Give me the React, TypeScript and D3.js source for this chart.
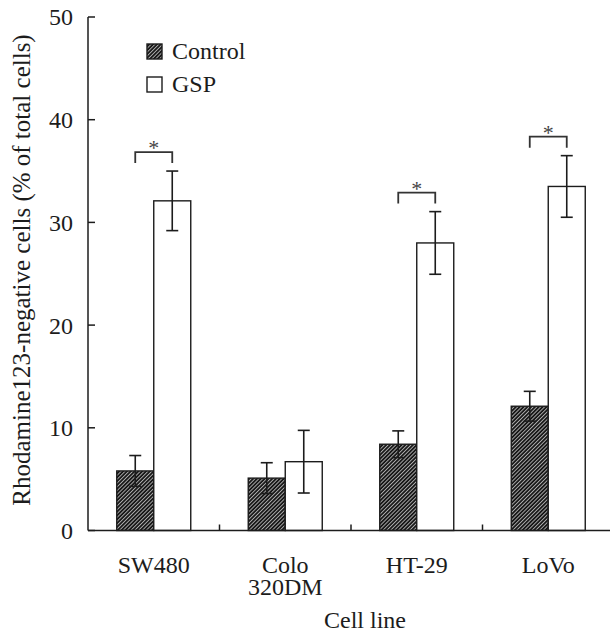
import React from 'react';
import * as d3 from 'd3';

// data
const cellLines = ['SW480', 'Colo 320DM', 'HT-29', 'LoVo'];
const controlMeans = [5.8, 5.1, 8.4, 12.1];
const controlErr = [1.5, 1.5, 1.3, 1.45];
const gspMeans = [32.1, 6.7, 28.0, 33.5];
const gspErr = [2.9, 3.05, 3.05, 3.0];
const significant = [true, false, true, true];
const yTicks = [0, 10, 20, 30, 40, 50];
const seriesNames = ['Control', 'GSP'];

const W = 610;
const H = 632;
const font = "'Liberation Serif', 'Times New Roman', 'DejaVu Serif', serif";
const ink = '#1c1c1c';

export default function App() {
  const x = d3.scaleBand<string>().domain(cellLines).range([88, 614]);
  const y = d3.scaleLinear().domain([0, 50]).range([530.5, 17]);
  const barW = 37;
  const cap = 6;

  const center = (c: string) => (x(c) as number) + x.bandwidth() / 2;
  const ts = { fontFamily: font };

  return (
    <svg width={W} height={H}
      style={{ position: 'absolute', left: 0, top: 0, background: '#fff', fontFamily: font }}>
      <defs>
        <pattern id="hatch" width="2.7" height="2.7" patternUnits="userSpaceOnUse"
          patternTransform="rotate(45)">
          <rect width="2.7" height="2.7" fill="#151515" />
          <line x1="0.5" y1="0" x2="0.5" y2="2.7" stroke="#b8b8b8" strokeWidth="0.9" />
        </pattern>
      </defs>

      {/* bars */}
      {cellLines.map((c, i) => {
        const cx = center(c);
        const ctl = controlMeans[i], gsp = gspMeans[i];
        return (
          <g key={c}>
            <rect x={cx - barW} y={y(ctl)} width={barW} height={y(0) - y(ctl)}
              fill="url(#hatch)" stroke={ink} strokeWidth={1.4} />
            <rect x={cx} y={y(gsp)} width={barW} height={y(0) - y(gsp)}
              fill="#fff" stroke={ink} strokeWidth={1.4} />
            {[{ m: ctl, e: controlErr[i], ex: cx - barW / 2 }, { m: gsp, e: gspErr[i], ex: cx + barW / 2 }]
              .map((d, j) => (
                <g key={j} stroke={ink} strokeWidth={1.6}>
                  <line x1={d.ex} x2={d.ex} y1={y(d.m + d.e)} y2={y(d.m - d.e)} />
                  <line x1={d.ex - cap} x2={d.ex + cap} y1={y(d.m + d.e)} y2={y(d.m + d.e)} />
                  <line x1={d.ex - cap} x2={d.ex + cap} y1={y(d.m - d.e)} y2={y(d.m - d.e)} />
                </g>
              ))}
            {significant[i] && (() => {
              const top = y(gsp + gspErr[i]) - 19;
              const leg = top + 11;
              const x1 = cx - barW / 2, x2 = cx + barW / 2;
              return (
                <g>
                  <path d={`M${x1},${leg}V${top}H${x2}V${leg}`} fill="none" stroke="#333" strokeWidth={1.8} />
                  <text x={cx} y={top + 3} textAnchor="middle" fontSize={22} fill="#444" style={ts}>*</text>
                </g>
              );
            })()}
          </g>
        );
      })}

      {/* y axis */}
      <line x1={88} x2={88} y1={y(50)} y2={y(0)} stroke={ink} strokeWidth={1.5} />
      {yTicks.map(t => (
        <g key={t}>
          <line x1={88} x2={95} y1={y(t)} y2={y(t)} stroke={ink} strokeWidth={1.5} />
          <text x={73} y={y(t)} dy="0.35em" textAnchor="end" fontSize={24} fill={ink} style={ts}>{t}</text>
        </g>
      ))}

      {/* x axis */}
      <line x1={88} x2={W} y1={y(0)} y2={y(0)} stroke={ink} strokeWidth={1.5} />
      {cellLines.slice(1).map(c => (
        <line key={c} x1={x(c) as number} x2={x(c) as number} y1={y(0)} y2={y(0) - 6}
          stroke={ink} strokeWidth={1.5} />
      ))}
      {cellLines.map(c => {
        const parts = c === 'Colo 320DM' ? ['Colo', '320DM'] : [c];
        return parts.map((p, k) => (
          <text key={c + k} x={center(c)} y={573 + k * 22} textAnchor="middle" fontSize={24}
            fill={ink} style={ts}>{p}</text>
        ));
      })}
      <text x={365} y={628} textAnchor="middle" fontSize={24} fill={ink} style={ts}>Cell line</text>

      {/* y title */}
      <text transform="translate(21,270) rotate(-90)" textAnchor="middle" dy="0.35em"
        fontSize={25} fill={ink} style={ts}>Rhodamine123-negative cells (% of total cells)</text>

      {/* legend */}
      {seriesNames.map((s, i) => (
        <g key={s} transform={`translate(147,${44 + i * 33})`}>
          <rect x={0} y={0} width={15} height={15}
            fill={i === 0 ? 'url(#hatch)' : '#fff'} stroke={ink} strokeWidth={1.4} />
          <text x={25} y={15} fontSize={24} fill={ink} style={ts}>{s}</text>
        </g>
      ))}
    </svg>
  );
}
